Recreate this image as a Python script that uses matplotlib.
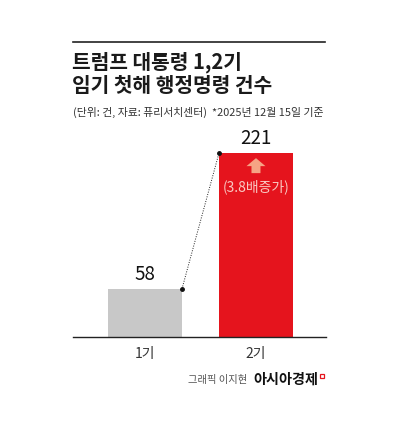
import matplotlib
matplotlib.use("Agg")
import matplotlib.pyplot as plt
from matplotlib.patches import Polygon, Rectangle

plt.rcParams['font.family'] = ['Noto Sans CJK KR', 'DejaVu Sans']

title_lines = ["트럼프 대통령 1,2기", "임기 첫해 행정명령 건수"]
subtitle = "(단위: 건, 자료: 퓨리서치센터)  *2025년 12월 15일 기준"
categories = ["1기", "2기"]
values = [58, 221]
bar_colors = ["#c8c8c8", "#e5141d"]
growth_label = "(3.8배증가)"
credit_name = "그래픽 이지현"
credit_brand = "아시아경제"

W, H = 400, 430
fig = plt.figure(figsize=(W / 100, H / 100), dpi=100)
fig.patch.set_facecolor("white")

def fx(px):
    return px / W

def fy(py):
    return 1 - py / H

# top rule
fig.add_artist(plt.Line2D([fx(73), fx(325)], [fy(42), fy(42)], color="#222222", lw=1.2))

fig.text(fx(72), fy(62), title_lines[0], fontsize=14.6, fontweight="bold", color="#1a1a1a", va="center", ha="left")
fig.text(fx(72), fy(86), title_lines[1], fontsize=14.6, fontweight="bold", color="#1a1a1a", va="center", ha="left")
fig.text(fx(73), fy(112), subtitle, fontsize=7.85, color="#333333", va="center", ha="left")

# axes
ax_left, ax_right = 73, 326
ax_bottom, ax_top = 337, 129
ax = fig.add_axes([fx(ax_left), fy(ax_bottom), fx(ax_right - ax_left), (ax_bottom - ax_top) / H])
x = list(range(len(categories)))
bw = 0.667
ax.bar(x, values, width=bw, color=bar_colors, zorder=2)
ax.set_xlim(-0.649, 1.631)
ax.set_ylim(0, 250)
for s in ["top", "left", "right"]:
    ax.spines[s].set_visible(False)
ax.spines["bottom"].set_color("#222222")
ax.spines["bottom"].set_linewidth(1.0)
ax.set_yticks([])
ax.set_xticks(x)
ax.set_xticklabels(categories, fontsize=10, color="#333333")
ax.tick_params(axis="x", length=0, pad=7)
ax.patch.set_alpha(0)

# value labels
for xi, v in zip(x, values):
    ax.annotate(str(v), (xi, v), xytext=(0, 3), textcoords="offset points",
                ha="center", va="bottom", fontsize=13.5, color="#111111", fontweight="medium")

# dotted connector
x0, y0 = x[0] + bw / 2, values[0]
x1, y1 = x[1] - bw / 2, values[1]
ax.plot([x0, x1], [y0, y1], color="#222222", lw=0.7, ls=(0, (1, 1.5)), zorder=3)
ax.plot([x0, x1], [y0, y1], "o", color="#111111", ms=2.5, zorder=4)

# growth arrow (in pixel offsets from top of bar 2)
cx, cy = ax.transData.transform((x[1], values[1]))
arrow_px = [(-4.5, -20), (-4.5, -13), (-9.5, -13), (0, -5), (9.5, -13), (4.5, -13), (4.5, -20)]
poly = Polygon([(cx + dx, cy + dy) for dx, dy in arrow_px], closed=True,
               transform=None, facecolor="#f6a384", edgecolor="none", zorder=5)
fig.add_artist(poly)
ax.annotate(growth_label, (x[1], values[1]), xytext=(0, -24), textcoords="offset points",
            ha="center", va="center", fontsize=10, color="#f9c9c2", zorder=5)

# credit
fig.text(fx(247), fy(380), credit_name, fontsize=7.4, color="#555555", ha="right", va="center")
fig.text(fx(253), fy(380), credit_brand, fontsize=10.2, fontweight="bold", color="#111111", ha="left", va="center")
fig.add_artist(Rectangle((fx(320), fy(378)), fx(4), 4 / H, facecolor="none", edgecolor="#e5141d", lw=0.9))

fig.savefig("out.png", dpi=100, facecolor="white")
